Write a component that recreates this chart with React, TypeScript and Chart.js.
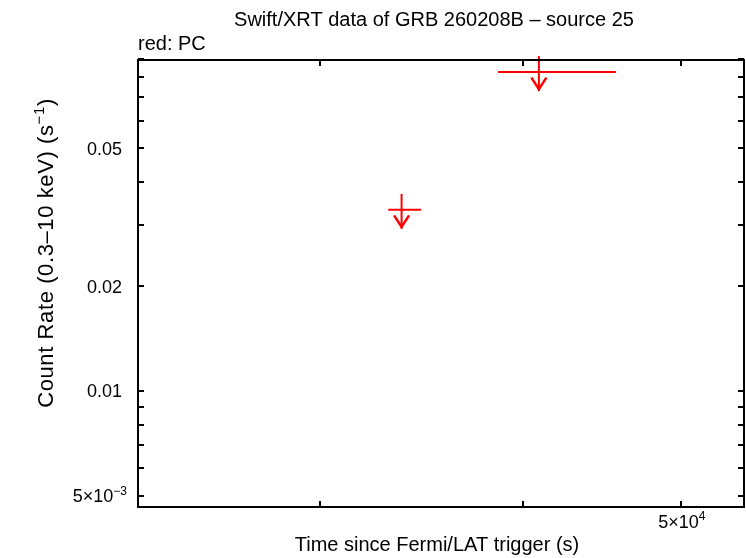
import React, { useEffect, useRef } from "react";
import { Chart, registerables } from "chart.js";

Chart.register(...registerables);

// ---- data ----
const times = [33660, 40890];
const timeLow = [33030, 38590];
const timeHigh = [34600, 45600];
const rates = [0.0332, 0.0827];
const isUpperLimit = [true, true];

// ---- axes ----
const xMin = 23170;
const xMax = 54680;
const yMin = 0.004636;
const yMax = 0.0896;
const xTickValues = [30000, 40000, 50000];
const xTickLabels: (string[] | null)[] = [null, null, ["5×10", "4"]];
const yMajorValues = [0.005, 0.01, 0.02, 0.05];
const yMajorLabels: string[][] = [["5×10", "−3"], ["0.01"], ["0.02"], ["0.05"]];
const yMinorValues = [0.006, 0.007, 0.008, 0.009, 0.03, 0.04, 0.06, 0.07, 0.08, 0.09];

const titleText = "Swift/XRT data of GRB 260208B – source 25";
const subtitleText = "red: PC";
const xAxisTitle = "Time since Fermi/LAT trigger (s)";
const yAxisTitle: string[] = ["Count Rate (0.3–10 keV) (s", "−1", ")"];

const FONT = '"Liberation Sans", Arial, Helvetica, sans-serif';
const RED = "#ff0000";

function drawSup(
  ctx: CanvasRenderingContext2D,
  parts: string[],
  x: number,
  y: number,
  align: "left" | "right" | "center",
  size = 18,
  spacing = 0
) {
  // parts: [base, sup, base, sup, ...]
  const big = `${size}px ${FONT}`;
  const small = `${Math.round(size * 0.68)}px ${FONT}`;
  (ctx as any).letterSpacing = `${spacing}px`;
  let total = 0;
  const widths: number[] = [];
  parts.forEach((p, i) => {
    ctx.font = i % 2 === 0 ? big : small;
    const w = ctx.measureText(p).width;
    widths.push(w);
    total += w;
  });
  let cx = align === "left" ? x : align === "right" ? x - total : x - total / 2;
  ctx.textAlign = "left";
  ctx.textBaseline = "alphabetic";
  parts.forEach((p, i) => {
    ctx.font = i % 2 === 0 ? big : small;
    ctx.fillText(p, cx, i % 2 === 0 ? y : y - size * 0.42);
    cx += widths[i];
  });
  (ctx as any).letterSpacing = "0px";
}

const gnuplotPlugin = {
  id: "gnuplotLook",
  afterDraw(chart: any) {
    const ctx: CanvasRenderingContext2D = chart.ctx;
    const { left, right, top, bottom } = chart.chartArea;
    const xs = chart.scales.x;
    const ys = chart.scales.y;
    ctx.save();

    // data: error bars with upper-limit arrows
    ctx.strokeStyle = RED;
    ctx.lineWidth = 2;
    ctx.lineCap = "butt";
    for (let i = 0; i < times.length; i++) {
      const px = xs.getPixelForValue(times[i]);
      const py = ys.getPixelForValue(rates[i]);
      const pl = xs.getPixelForValue(timeLow[i]);
      const ph = xs.getPixelForValue(timeHigh[i]);
      ctx.beginPath();
      ctx.moveTo(pl, py);
      ctx.lineTo(ph, py);
      ctx.stroke();
      if (isUpperLimit[i]) {
        ctx.lineWidth = 2;
        ctx.beginPath();
        ctx.moveTo(px, py - 16);
        ctx.lineTo(px, py + 19);
        ctx.stroke();
        ctx.lineWidth = 2.5;
        ctx.beginPath();
        ctx.moveTo(px - 7.5, py + 5.5);
        ctx.lineTo(px, py + 17);
        ctx.lineTo(px + 7.5, py + 5.5);
        ctx.stroke();
        ctx.lineWidth = 2;
      }
    }

    // frame
    ctx.strokeStyle = "#000";
    ctx.lineWidth = 2;
    ctx.strokeRect(left, top, right - left, bottom - top);

    // ticks
    const tl = 6;
    ctx.beginPath();
    [...yMajorValues, ...yMinorValues].forEach((v) => {
      const py = Math.round(ys.getPixelForValue(v));
      ctx.moveTo(left, py);
      ctx.lineTo(left + tl, py);
      ctx.moveTo(right, py);
      ctx.lineTo(right - tl, py);
    });
    xTickValues.forEach((v) => {
      const px = Math.round(xs.getPixelForValue(v));
      ctx.moveTo(px, bottom);
      ctx.lineTo(px, bottom - tl);
      ctx.moveTo(px, top);
      ctx.lineTo(px, top + tl);
    });
    ctx.stroke();

    // tick labels
    ctx.fillStyle = "#000";
    yMajorValues.forEach((v, i) => {
      const py = ys.getPixelForValue(v);
      const lab = yMajorLabels[i];
      drawSup(ctx, lab, lab.length > 1 ? 127 : 122, py + 6.5, "right");
    });
    xTickValues.forEach((v, i) => {
      const lab = xTickLabels[i];
      if (!lab) return;
      const px = xs.getPixelForValue(v);
      drawSup(ctx, lab, px + 1, 528, "center");
    });

    // titles
    drawSup(ctx, [titleText], 434, 26, "center", 20);
    drawSup(ctx, [subtitleText], 138, 50, "left", 20);
    drawSup(ctx, [xAxisTitle], 437, 551, "center", 20);

    ctx.save();
    ctx.translate(53, 253);
    ctx.rotate(-Math.PI / 2);
    drawSup(ctx, yAxisTitle, 0, 0, "center", 22, 0.6);
    ctx.restore();

    ctx.restore();
  },
};

export default function App() {
  const ref = useRef<HTMLCanvasElement | null>(null);
  useEffect(() => {
    if (!ref.current) return;
    const chart = new Chart(ref.current, {
      type: "scatter",
      data: {
        datasets: [
          {
            label: "PC",
            data: times.map((t, i) => ({ x: t, y: rates[i] })),
            pointRadius: 0,
            borderColor: RED,
            backgroundColor: RED,
          },
        ],
      },
      options: {
        responsive: false,
        devicePixelRatio: 1,
        animation: false,
        layout: { padding: { left: 138, right: 2, top: 60, bottom: 51 } },
        scales: {
          x: { type: "logarithmic", min: xMin, max: xMax, display: false },
          y: { type: "logarithmic", min: yMin, max: yMax, display: false },
        },
        plugins: { legend: { display: false }, tooltip: { enabled: false } },
      },
      plugins: [gnuplotPlugin],
    });
    return () => chart.destroy();
  }, []);
  return (
    <div style={{ position: "absolute", left: 0, top: 0, width: 746, height: 558, background: "#fff" }}>
      <canvas ref={ref} width={746} height={558} style={{ width: 746, height: 558, display: "block" }} />
    </div>
  );
}
